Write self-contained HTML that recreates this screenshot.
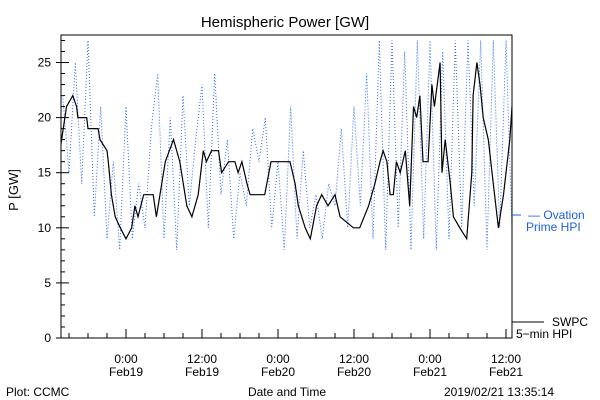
<!DOCTYPE html>
<html><head><meta charset="utf-8"><style>
body{margin:0;background:#fff;}
svg{display:block;font-family:"Liberation Sans",sans-serif;}
</style></head><body>
<svg width="600" height="400" xmlns="http://www.w3.org/2000/svg">
<defs><clipPath id="plotclip"><rect x="61" y="35" width="451" height="303"/></clipPath></defs>
<rect width="600" height="400" fill="#fff"/>
<text x="285" y="27" font-size="15" text-anchor="middle">Hemispheric Power [GW]</text>
<text transform="translate(18,190) rotate(-90)" font-size="13" text-anchor="middle">P [GW]</text>
<g id="ticks"></g>
<g id="series" clip-path="url(#plotclip)"></g>
<rect x="61" y="35" width="451" height="303" fill="none" stroke="#000" stroke-width="1"/>
<line x1="512" y1="215" x2="521" y2="215" stroke="#1a5fe0"/>
<text x="528" y="219" font-size="12" fill="#1a5fe0">— Ovation</text>
<text x="526" y="231" font-size="12" fill="#1a5fe0">Prime HPI</text>
<line x1="512" y1="322" x2="544" y2="322" stroke="#000"/>
<text x="552" y="326" font-size="12">SWPC</text>
<text x="516" y="338" font-size="12">5−min HPI</text>
<text x="287" y="396" font-size="12" text-anchor="middle">Date and Time</text>
<text x="6" y="396" font-size="12">Plot: CCMC</text>
<text x="444" y="396" font-size="12">2019/02/21 13:35:14</text>
</svg>
<script>
const yTicks=[0,5,10,15,20,25];
const xTickHours=[0,12,24,36,48,60];
const xTickTimes=["0:00","12:00","0:00","12:00","0:00","12:00"];
const xTickDates=["Feb19","Feb19","Feb20","Feb20","Feb21","Feb21"];
const swpcHours=[-10.3,-9.4,-8.4,-7.8,-7.6,-6.2,-6.0,-4.4,-4.1,-3.0,-2.8,-2.3,-1.7,-0.9,0,0.9,1.4,1.9,2.8,4.3,4.8,6.2,7.5,8.5,9.6,10.4,11.4,12.2,12.7,13.5,14.6,15.1,16.2,17.2,17.7,18.3,19.1,19.6,21.9,22.9,25.1,25.9,26.7,27.2,28.3,29.1,30.1,30.9,31.9,33.0,33.8,35.9,36.9,38.3,39.3,40.1,40.6,41.2,41.7,42.2,42.7,43.3,44.1,44.8,45.4,45.9,46.4,46.9,47.7,48.3,48.7,49.6,49.9,50.4,51.2,51.7,52.7,53.8,54.6,54.8,55.4,55.9,56.4,57.2,58.0,58.8,59.6,60.6,60.95];
const swpcValues=[17.5,21,22,21,20,20,19,19,18,17,16,13,11,10,9,10,12,11,13,13,11,16,18,16,12,11,13,17,16,17,17,15,16,16,15,16,14,13,13,16,16,16,14,12,10,9,12,13,12,13,11,10,10,12,14,16,17,16,13,13,16,15,17,12,21,20,22,16,16,23,21,25,15,18,14,11,10,9,15,22,25,23,20,18,14,10,13,18,21,24.5];
const ovationStart=-10;
const ovationValues=[22,15,25,14,27,11,21,9,16,8,21,9,14,10,19,24,9,20,8,22,12,18,23,10,24,13,18,9,15,12,19,16,20,10,16,8,21,9,17,10,13,9,14,12,19,10,21,12,24,9,27,8,27,10,26,8,27,9,27,8,26,9,27,10,27,12,27,8,27,10,27,9];

const NS="http://www.w3.org/2000/svg";
const X0=61,X1=512,YB=338;
function xs(h){return 126+h*76/12;}
function ys(v){return YB-v*11.02;}
function mk(tag,attrs,parent){const e=document.createElementNS(NS,tag);for(const k in attrs)e.setAttribute(k,attrs[k]);parent.appendChild(e);return e;}
const tg=document.getElementById('ticks');
for(let v=0;v<=27;v++){
  const l=mk('line',{x1:X0,x2:X0+(v%5===0?8:4),y1:ys(v),y2:ys(v),stroke:'#000'},tg);
  
  
}
yTicks.forEach(v=>{
  const l=mk('line',{x1:X0-5,x2:X0,y1:ys(v),y2:ys(v),stroke:'#000'},tg);
  
  
  const t=mk('text',{x:X0-10,y:ys(v)+4,'font-size':12,'text-anchor':'end'},tg);
  
  
  t.textContent=v;
});
for(let h=-9;h<=60;h+=3){
  const major=h%12===0;
  const l=mk('line',{x1:xs(h),x2:xs(h),y1:YB,y2:YB-(major?9:5),stroke:'#000'},tg);
  
  
}
xTickHours.forEach((h,i)=>{
  const t1=mk('text',{x:xs(h),y:363,'font-size':12,'text-anchor':'middle'},tg);
  
  
  t1.textContent=xTickTimes[i];
  const t2=mk('text',{x:xs(h),y:376,'font-size':12,'text-anchor':'middle'},tg);
  
  
  t2.textContent=xTickDates[i];
});
const sg=document.getElementById('series');
const op=ovationValues.map((v,i)=>xs(ovationStart+i).toFixed(1)+','+ys(v).toFixed(1)).join(' ');
const ol=mk('polyline',{points:op,fill:'none',stroke:'#2a6cf0','stroke-width':1,'stroke-dasharray':'1,2'},sg);


const sp=swpcHours.map((h,i)=>xs(h).toFixed(1)+','+ys(swpcValues[i]).toFixed(1)).join(' ');
const sl=mk('polyline',{points:sp,fill:'none',stroke:'#000','stroke-width':1.2},sg);


</script>
</body></html>
